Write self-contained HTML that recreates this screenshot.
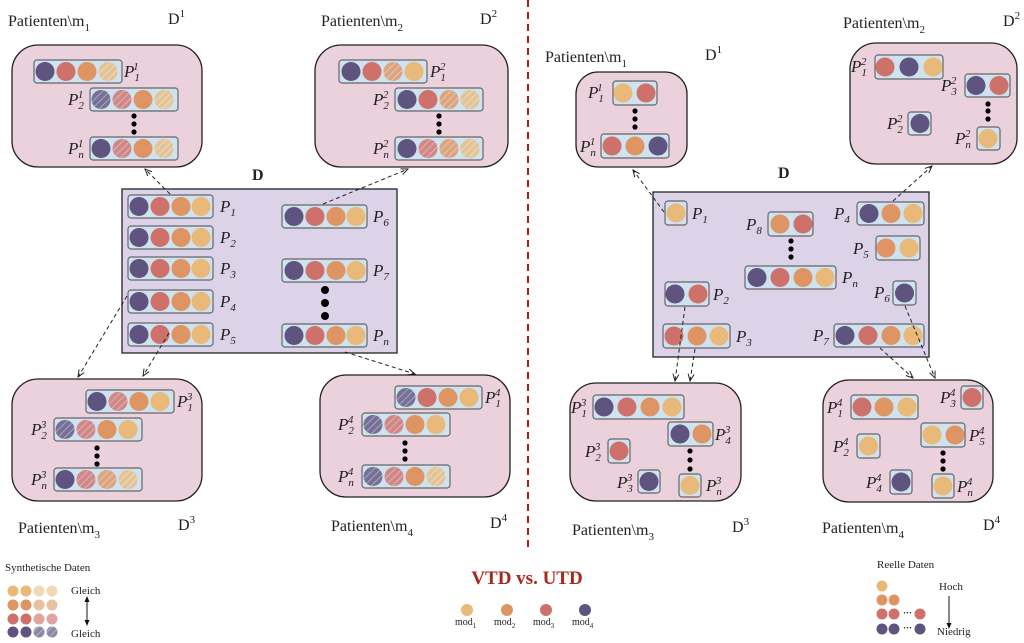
<!DOCTYPE html>
<html><head><meta charset="utf-8"><style>
html,body{margin:0;padding:0;background:#fff;}
svg{display:block;}
text{font-family:"Liberation Serif",serif;fill:#222;}
.t{font-size:16px;}
.p{font-size:17px;font-style:italic;}
.s{font-size:11px;}
</style></head><body>
<svg width="1024" height="643" viewBox="0 0 1024 643" xmlns="http://www.w3.org/2000/svg">
<defs>
<pattern id="h" width="5" height="5" patternUnits="userSpaceOnUse" patternTransform="rotate(45)">
<rect width="5" height="5" fill="none"/><line x1="0" y1="0" x2="0" y2="5" stroke="#fff" stroke-width="1.3" stroke-opacity="0.55"/></pattern>
<circle id="y" r="9.5" fill="#e8b978"/>
<circle id="o" r="9.5" fill="#de9563"/>
<circle id="r" r="9.5" fill="#cf716b"/>
<circle id="u" r="9.5" fill="#5f5480"/>
<g id="yh"><circle r="9.5" fill="#e8b978" opacity="0.75"/><circle r="9.5" fill="url(#h)"/></g>
<g id="oh"><circle r="9.5" fill="#de9563" opacity="0.8"/><circle r="9.5" fill="url(#h)"/></g>
<g id="rh"><circle r="9.5" fill="#cf716b" opacity="0.8"/><circle r="9.5" fill="url(#h)"/></g>
<g id="uh"><circle r="9.5" fill="#5f5480" opacity="0.8"/><circle r="9.5" fill="url(#h)"/></g>
<marker id="a" markerWidth="8" markerHeight="8" refX="7" refY="4" orient="auto"><path d="M0,1 L7,4 L0,7" fill="none" stroke="#222" stroke-width="1"/></marker>
</defs>

<line x1="528" y1="0" x2="528" y2="552" stroke="#cc1111" stroke-width="2" stroke-dasharray="7,5"/>

<!-- ===== LEFT ===== -->
<text class="t" x="8" y="26">Patienten\m<tspan class="s" dy="5">1</tspan></text>
<text class="t" x="168" y="24">D<tspan class="s" dy="-7">1</tspan></text>
<text class="t" x="321" y="26">Patienten\m<tspan class="s" dy="5">2</tspan></text>
<text class="t" x="480" y="24">D<tspan class="s" dy="-7">2</tspan></text>

<rect x="12" y="45" width="190" height="122" rx="26" fill="#ebd1dc" stroke="#222" stroke-width="1.3"/>
<rect x="315" y="45" width="193" height="122" rx="26" fill="#ebd1dc" stroke="#222" stroke-width="1.3"/>
<rect x="12" y="379" width="190" height="122" rx="26" fill="#ebd1dc" stroke="#222" stroke-width="1.3"/>
<rect x="320" y="375" width="190" height="122" rx="26" fill="#ebd1dc" stroke="#222" stroke-width="1.3"/>
<rect x="122" y="189" width="275" height="164" fill="#dcd3e8" stroke="#222" stroke-width="1.3"/>

<g fill="#cfe2f0" stroke="#666" stroke-width="1.2">
<rect x="34" y="60" width="88" height="23" rx="3"/>
<rect x="90" y="88" width="88" height="23" rx="3"/>
<rect x="90" y="137" width="88" height="23" rx="3"/>
<rect x="339" y="60" width="88" height="23" rx="3"/>
<rect x="395" y="88" width="88" height="23" rx="3"/>
<rect x="395" y="137" width="88" height="23" rx="3"/>
<rect x="128" y="195" width="85" height="23" rx="3"/>
<rect x="128" y="226" width="85" height="23" rx="3"/>
<rect x="128" y="257" width="85" height="23" rx="3"/>
<rect x="128" y="290" width="85" height="23" rx="3"/>
<rect x="128" y="323" width="85" height="23" rx="3"/>
<rect x="282" y="205" width="85" height="23" rx="3"/>
<rect x="282" y="259" width="85" height="23" rx="3"/>
<rect x="282" y="324" width="85" height="23" rx="3"/>
<rect x="86" y="390" width="88" height="23" rx="3"/>
<rect x="54" y="418" width="88" height="23" rx="3"/>
<rect x="54" y="468" width="88" height="23" rx="3"/>
<rect x="395" y="386" width="87" height="23" rx="3"/>
<rect x="362" y="413" width="88" height="23" rx="3"/>
<rect x="362" y="465" width="88" height="23" rx="3"/>
</g>

<use href="#u" x="45" y="71.5"/><use href="#r" x="66" y="71.5"/><use href="#o" x="87" y="71.5"/><use href="#yh" x="108" y="71.5"/>
<use href="#uh" x="101" y="99.5"/><use href="#rh" x="122" y="99.5"/><use href="#o" x="143" y="99.5"/><use href="#yh" x="164" y="99.5"/>
<use href="#u" x="101" y="148.5"/><use href="#rh" x="122" y="148.5"/><use href="#o" x="143" y="148.5"/><use href="#yh" x="164" y="148.5"/>
<g fill="#000"><circle cx="134" cy="116" r="2.6"/><circle cx="134" cy="124" r="2.6"/><circle cx="134" cy="132" r="2.6"/></g>
<text class="p" x="124" y="77">P<tspan class="s" dx="0" dy="4">1</tspan><tspan class="s" dx="-6" dy="-11">1</tspan></text>
<text class="p" x="68" y="105">P<tspan class="s" dy="4">2</tspan><tspan class="s" dx="-6" dy="-11">1</tspan></text>
<text class="p" x="68" y="154">P<tspan class="s" dy="4">n</tspan><tspan class="s" dx="-6" dy="-11">1</tspan></text>

<use href="#u" x="351" y="71.5"/><use href="#r" x="372" y="71.5"/><use href="#oh" x="393" y="71.5"/><use href="#y" x="414" y="71.5"/>
<use href="#u" x="407" y="99.5"/><use href="#r" x="428" y="99.5"/><use href="#oh" x="449" y="99.5"/><use href="#yh" x="470" y="99.5"/>
<use href="#u" x="407" y="148.5"/><use href="#rh" x="428" y="148.5"/><use href="#oh" x="449" y="148.5"/><use href="#yh" x="470" y="148.5"/>
<g fill="#000"><circle cx="439" cy="116" r="2.6"/><circle cx="439" cy="124" r="2.6"/><circle cx="439" cy="132" r="2.6"/></g>
<text class="p" x="430" y="77">P<tspan class="s" dy="4">1</tspan><tspan class="s" dx="-6" dy="-11">2</tspan></text>
<text class="p" x="373" y="105">P<tspan class="s" dy="4">2</tspan><tspan class="s" dx="-6" dy="-11">2</tspan></text>
<text class="p" x="373" y="154">P<tspan class="s" dy="4">n</tspan><tspan class="s" dx="-6" dy="-11">2</tspan></text>

<text x="252" y="180" style="font-size:16px;font-weight:bold">D</text>
<g>
<use href="#u" x="139" y="206.5"/><use href="#r" x="160" y="206.5"/><use href="#o" x="181" y="206.5"/><use href="#y" x="201" y="206.5"/>
<use href="#u" x="139" y="237.5"/><use href="#r" x="160" y="237.5"/><use href="#o" x="181" y="237.5"/><use href="#y" x="201" y="237.5"/>
<use href="#u" x="139" y="268.5"/><use href="#r" x="160" y="268.5"/><use href="#o" x="181" y="268.5"/><use href="#y" x="201" y="268.5"/>
<use href="#u" x="139" y="301.5"/><use href="#r" x="160" y="301.5"/><use href="#o" x="181" y="301.5"/><use href="#y" x="201" y="301.5"/>
<use href="#u" x="139" y="334.5"/><use href="#r" x="160" y="334.5"/><use href="#o" x="181" y="334.5"/><use href="#y" x="201" y="334.5"/>
<use href="#u" x="294" y="216.5"/><use href="#r" x="315" y="216.5"/><use href="#o" x="336" y="216.5"/><use href="#y" x="356" y="216.5"/>
<use href="#u" x="294" y="270.5"/><use href="#r" x="315" y="270.5"/><use href="#o" x="336" y="270.5"/><use href="#y" x="356" y="270.5"/>
<use href="#u" x="294" y="335.5"/><use href="#r" x="315" y="335.5"/><use href="#o" x="336" y="335.5"/><use href="#y" x="356" y="335.5"/>
</g>
<g fill="#000"><circle cx="325" cy="290" r="4"/><circle cx="325" cy="303" r="4"/><circle cx="325" cy="316" r="4"/></g>
<text class="p" x="220" y="212">P<tspan class="s" dy="4">1</tspan></text>
<text class="p" x="220" y="243">P<tspan class="s" dy="4">2</tspan></text>
<text class="p" x="220" y="274">P<tspan class="s" dy="4">3</tspan></text>
<text class="p" x="220" y="307">P<tspan class="s" dy="4">4</tspan></text>
<text class="p" x="220" y="340">P<tspan class="s" dy="4">5</tspan></text>
<text class="p" x="373" y="222">P<tspan class="s" dy="4">6</tspan></text>
<text class="p" x="373" y="276">P<tspan class="s" dy="4">7</tspan></text>
<text class="p" x="373" y="341">P<tspan class="s" dy="4">n</tspan></text>

<use href="#u" x="97" y="401.5"/><use href="#rh" x="118" y="401.5"/><use href="#o" x="139" y="401.5"/><use href="#y" x="160" y="401.5"/>
<use href="#uh" x="65" y="429.5"/><use href="#rh" x="86" y="429.5"/><use href="#o" x="107" y="429.5"/><use href="#y" x="128" y="429.5"/>
<use href="#u" x="65" y="479.5"/><use href="#rh" x="86" y="479.5"/><use href="#oh" x="107" y="479.5"/><use href="#yh" x="128" y="479.5"/>
<g fill="#000"><circle cx="97" cy="448" r="2.6"/><circle cx="97" cy="456" r="2.6"/><circle cx="97" cy="464" r="2.6"/></g>
<text class="p" x="177" y="407">P<tspan class="s" dy="4">1</tspan><tspan class="s" dx="-6" dy="-11">3</tspan></text>
<text class="p" x="31" y="435">P<tspan class="s" dy="4">2</tspan><tspan class="s" dx="-6" dy="-11">3</tspan></text>
<text class="p" x="31" y="485">P<tspan class="s" dy="4">n</tspan><tspan class="s" dx="-6" dy="-11">3</tspan></text>
<text class="t" x="18" y="533">Patienten\m<tspan class="s" dy="5">3</tspan></text>
<text class="t" x="178" y="530">D<tspan class="s" dy="-7">3</tspan></text>

<use href="#uh" x="406" y="397.5"/><use href="#r" x="427" y="397.5"/><use href="#o" x="448" y="397.5"/><use href="#y" x="469" y="397.5"/>
<use href="#uh" x="373" y="424.5"/><use href="#rh" x="394" y="424.5"/><use href="#o" x="415" y="424.5"/><use href="#y" x="436" y="424.5"/>
<use href="#uh" x="373" y="476.5"/><use href="#rh" x="394" y="476.5"/><use href="#o" x="415" y="476.5"/><use href="#yh" x="436" y="476.5"/>
<g fill="#000"><circle cx="405" cy="443" r="2.6"/><circle cx="405" cy="451" r="2.6"/><circle cx="405" cy="459" r="2.6"/></g>
<text class="p" x="485" y="403">P<tspan class="s" dy="4">1</tspan><tspan class="s" dx="-6" dy="-11">4</tspan></text>
<text class="p" x="338" y="430">P<tspan class="s" dy="4">2</tspan><tspan class="s" dx="-6" dy="-11">4</tspan></text>
<text class="p" x="338" y="482">P<tspan class="s" dy="4">n</tspan><tspan class="s" dx="-6" dy="-11">4</tspan></text>
<text class="t" x="331" y="531">Patienten\m<tspan class="s" dy="5">4</tspan></text>
<text class="t" x="490" y="528">D<tspan class="s" dy="-7">4</tspan></text>

<g stroke="#222" stroke-width="1" stroke-dasharray="4,3" fill="none" marker-end="url(#a)">
<line x1="170" y1="194" x2="145" y2="169"/>
<line x1="323" y1="204" x2="408" y2="169"/>
<line x1="127" y1="296" x2="78" y2="377"/>
<line x1="169" y1="333" x2="143" y2="376"/>
<line x1="345" y1="352" x2="415" y2="374"/>
</g>

<!-- ===== RIGHT ===== -->
<text class="t" x="545" y="62">Patienten\m<tspan class="s" dy="5">1</tspan></text>
<text class="t" x="705" y="60">D<tspan class="s" dy="-7">1</tspan></text>
<text class="t" x="843" y="28">Patienten\m<tspan class="s" dy="5">2</tspan></text>
<text class="t" x="1003" y="26">D<tspan class="s" dy="-7">2</tspan></text>

<rect x="576" y="72" width="111" height="95" rx="22" fill="#ebd1dc" stroke="#222" stroke-width="1.3"/>
<rect x="850" y="43" width="167" height="121" rx="26" fill="#ebd1dc" stroke="#222" stroke-width="1.3"/>
<rect x="570" y="383" width="171" height="118" rx="26" fill="#ebd1dc" stroke="#222" stroke-width="1.3"/>
<rect x="823" y="380" width="170" height="122" rx="26" fill="#ebd1dc" stroke="#222" stroke-width="1.3"/>
<rect x="653" y="192" width="276" height="165" fill="#dcd3e8" stroke="#222" stroke-width="1.3"/>

<g fill="#cfe2f0" stroke="#666" stroke-width="1.2">
<rect x="613" y="81" width="44" height="24" rx="3"/>
<rect x="601" y="134" width="68" height="24" rx="3"/>
<rect x="875" y="55" width="68" height="24" rx="3"/>
<rect x="965" y="74" width="45" height="23" rx="3"/>
<rect x="908" y="112" width="23" height="23" rx="3"/>
<rect x="977" y="127" width="23" height="23" rx="3"/>
<rect x="665" y="201" width="22" height="24" rx="3"/>
<rect x="768" y="212" width="45" height="24" rx="3"/>
<rect x="745" y="266" width="91" height="23" rx="3"/>
<rect x="857" y="202" width="67" height="23" rx="3"/>
<rect x="876" y="236" width="44" height="24" rx="3"/>
<rect x="893" y="281" width="23" height="24" rx="3"/>
<rect x="834" y="324" width="90" height="23" rx="3"/>
<rect x="665" y="282" width="44" height="24" rx="3"/>
<rect x="663" y="324" width="67" height="24" rx="3"/>
<rect x="593" y="395" width="91" height="24" rx="3"/>
<rect x="668" y="422" width="45" height="24" rx="3"/>
<rect x="608" y="439" width="22" height="24" rx="3"/>
<rect x="638" y="470" width="22" height="23" rx="3"/>
<rect x="679" y="474" width="22" height="23" rx="3"/>
<rect x="851" y="395" width="67" height="24" rx="3"/>
<rect x="961" y="386" width="22" height="23" rx="3"/>
<rect x="921" y="423" width="44" height="24" rx="3"/>
<rect x="857" y="434" width="23" height="24" rx="3"/>
<rect x="890" y="470" width="22" height="24" rx="3"/>
<rect x="932" y="474" width="22" height="24" rx="3"/>
</g>

<use href="#y" x="623" y="93"/><use href="#r" x="646" y="93"/>
<use href="#r" x="612" y="146"/><use href="#o" x="635" y="146"/><use href="#u" x="658" y="146"/>
<g fill="#000"><circle cx="635" cy="111" r="2.6"/><circle cx="635" cy="119" r="2.6"/><circle cx="635" cy="127" r="2.6"/></g>
<text class="p" x="588" y="98">P<tspan class="s" dy="4">1</tspan><tspan class="s" dx="-6" dy="-11">1</tspan></text>
<text class="p" x="580" y="152">P<tspan class="s" dy="4">n</tspan><tspan class="s" dx="-6" dy="-11">1</tspan></text>

<use href="#r" x="885" y="67"/><use href="#u" x="909" y="67"/><use href="#y" x="933" y="67"/>
<use href="#u" x="976" y="85.5"/><use href="#r" x="999" y="85.5"/>
<use href="#u" x="920" y="123.5"/>
<use href="#y" x="988" y="138.5"/>
<g fill="#000"><circle cx="988" cy="104" r="2.6"/><circle cx="988" cy="111" r="2.6"/><circle cx="988" cy="119" r="2.6"/></g>
<text class="p" x="851" y="72">P<tspan class="s" dy="4">1</tspan><tspan class="s" dx="-6" dy="-11">2</tspan></text>
<text class="p" x="941" y="91">P<tspan class="s" dy="4">3</tspan><tspan class="s" dx="-6" dy="-11">2</tspan></text>
<text class="p" x="887" y="129">P<tspan class="s" dy="4">2</tspan><tspan class="s" dx="-6" dy="-11">2</tspan></text>
<text class="p" x="955" y="144">P<tspan class="s" dy="4">n</tspan><tspan class="s" dx="-6" dy="-11">2</tspan></text>

<text x="778" y="178" style="font-size:16px;font-weight:bold">D</text>
<use href="#y" x="676" y="213"/>
<use href="#o" x="780" y="224"/><use href="#r" x="803" y="224"/>
<use href="#u" x="757" y="277.5"/><use href="#r" x="780" y="277.5"/><use href="#o" x="803" y="277.5"/><use href="#y" x="825" y="277.5"/>
<use href="#u" x="869" y="213.5"/><use href="#o" x="891" y="213.5"/><use href="#y" x="913" y="213.5"/>
<use href="#o" x="886" y="248"/><use href="#y" x="909" y="248"/>
<use href="#u" x="904.5" y="293"/>
<use href="#u" x="845" y="335.5"/><use href="#r" x="868" y="335.5"/><use href="#o" x="891" y="335.5"/><use href="#y" x="913" y="335.5"/>
<use href="#u" x="675" y="294"/><use href="#r" x="698" y="294"/>
<use href="#r" x="674" y="336"/><use href="#o" x="697" y="336"/><use href="#y" x="719" y="336"/>
<g fill="#000"><circle cx="791" cy="241" r="2.6"/><circle cx="791" cy="249" r="2.6"/><circle cx="791" cy="257" r="2.6"/></g>
<text class="p" x="692" y="219">P<tspan class="s" dy="4">1</tspan></text>
<text class="p" x="746" y="230">P<tspan class="s" dy="4">8</tspan></text>
<text class="p" x="842" y="283">P<tspan class="s" dy="4">n</tspan></text>
<text class="p" x="834" y="219">P<tspan class="s" dy="4">4</tspan></text>
<text class="p" x="853" y="254">P<tspan class="s" dy="4">5</tspan></text>
<text class="p" x="874" y="298">P<tspan class="s" dy="4">6</tspan></text>
<text class="p" x="813" y="341">P<tspan class="s" dy="4">7</tspan></text>
<text class="p" x="713" y="300">P<tspan class="s" dy="4">2</tspan></text>
<text class="p" x="736" y="342">P<tspan class="s" dy="4">3</tspan></text>

<use href="#u" x="604" y="407"/><use href="#r" x="627" y="407"/><use href="#o" x="650" y="407"/><use href="#y" x="672" y="407"/>
<use href="#u" x="680" y="434"/><use href="#o" x="702" y="434"/>
<use href="#r" x="619" y="451"/>
<use href="#u" x="649" y="481.5"/>
<use href="#y" x="690" y="485.5"/>
<g fill="#000"><circle cx="690" cy="451" r="2.6"/><circle cx="690" cy="460" r="2.6"/><circle cx="690" cy="469" r="2.6"/></g>
<text class="p" x="571" y="413">P<tspan class="s" dy="4">1</tspan><tspan class="s" dx="-6" dy="-11">3</tspan></text>
<text class="p" x="715" y="440">P<tspan class="s" dy="4">4</tspan><tspan class="s" dx="-6" dy="-11">3</tspan></text>
<text class="p" x="585" y="457">P<tspan class="s" dy="4">2</tspan><tspan class="s" dx="-6" dy="-11">3</tspan></text>
<text class="p" x="617" y="488">P<tspan class="s" dy="4">3</tspan><tspan class="s" dx="-6" dy="-11">3</tspan></text>
<text class="p" x="706" y="491">P<tspan class="s" dy="4">n</tspan><tspan class="s" dx="-6" dy="-11">3</tspan></text>
<text class="t" x="572" y="535">Patienten\m<tspan class="s" dy="5">3</tspan></text>
<text class="t" x="732" y="532">D<tspan class="s" dy="-7">3</tspan></text>

<use href="#r" x="862" y="407"/><use href="#o" x="884" y="407"/><use href="#y" x="907" y="407"/>
<use href="#r" x="972" y="397.5"/>
<use href="#y" x="932" y="435"/><use href="#o" x="955" y="435"/>
<use href="#y" x="868.5" y="446"/>
<use href="#u" x="901" y="482"/>
<use href="#y" x="943" y="486"/>
<g fill="#000"><circle cx="943" cy="453" r="2.6"/><circle cx="943" cy="461" r="2.6"/><circle cx="943" cy="469" r="2.6"/></g>
<text class="p" x="827" y="413">P<tspan class="s" dy="4">1</tspan><tspan class="s" dx="-6" dy="-11">4</tspan></text>
<text class="p" x="940" y="403">P<tspan class="s" dy="4">3</tspan><tspan class="s" dx="-6" dy="-11">4</tspan></text>
<text class="p" x="969" y="441">P<tspan class="s" dy="4">5</tspan><tspan class="s" dx="-6" dy="-11">4</tspan></text>
<text class="p" x="833" y="452">P<tspan class="s" dy="4">2</tspan><tspan class="s" dx="-6" dy="-11">4</tspan></text>
<text class="p" x="866" y="488">P<tspan class="s" dy="4">4</tspan><tspan class="s" dx="-6" dy="-11">4</tspan></text>
<text class="p" x="957" y="492">P<tspan class="s" dy="4">n</tspan><tspan class="s" dx="-6" dy="-11">4</tspan></text>
<text class="t" x="822" y="533">Patienten\m<tspan class="s" dy="5">4</tspan></text>
<text class="t" x="983" y="530">D<tspan class="s" dy="-7">4</tspan></text>

<g stroke="#222" stroke-width="1" stroke-dasharray="4,3" fill="none" marker-end="url(#a)">
<line x1="664" y1="212" x2="633" y2="170"/>
<line x1="893" y1="201" x2="932" y2="166"/>
<line x1="685" y1="307" x2="675" y2="381"/>
<line x1="695" y1="349" x2="690" y2="381"/>
<line x1="880" y1="348" x2="913" y2="378"/>
<line x1="905" y1="306" x2="935" y2="378"/>
</g>

<!-- ===== LEGEND ===== -->
<text x="5" y="571" style="font-size:11px">Synthetische Daten</text>
<g>
<circle cx="13" cy="591" r="5.5" fill="#e8b978"/><circle cx="26" cy="591" r="5.5" fill="#e8b978"/><circle cx="39" cy="591" r="5.5" fill="#e8b978" opacity=".55"/><circle cx="52" cy="591" r="5.5" fill="#e8b978" opacity=".55"/>
<circle cx="13" cy="605" r="5.5" fill="#de9563"/><circle cx="26" cy="605" r="5.5" fill="#de9563"/><circle cx="39" cy="605" r="5.5" fill="#de9563" opacity=".6"/><circle cx="52" cy="605" r="5.5" fill="#de9563" opacity=".6"/>
<circle cx="13" cy="619" r="5.5" fill="#cf716b"/><circle cx="26" cy="619" r="5.5" fill="#cf716b"/><circle cx="39" cy="619" r="5.5" fill="#cf716b" opacity=".65"/><circle cx="52" cy="619" r="5.5" fill="#cf716b" opacity=".65"/>
<circle cx="13" cy="632" r="5.5" fill="#5f5480"/><circle cx="26" cy="632" r="5.5" fill="#5f5480"/><circle cx="39" cy="632" r="5.5" fill="#5f5480" opacity=".7"/><circle cx="52" cy="632" r="5.5" fill="#5f5480" opacity=".7"/>
<circle cx="39" cy="632" r="5.5" fill="url(#h)"/><circle cx="52" cy="632" r="5.5" fill="url(#h)"/>
</g>
<text x="71" y="594" style="font-size:11px">Gleich</text>
<text x="71" y="637" style="font-size:11px">Gleich</text>
<line x1="87" y1="598" x2="87" y2="624" stroke="#111" stroke-width="1"/>
<path d="M84.5,602 L87,596 L89.5,602 Z M84.5,620 L87,626 L89.5,620 Z" fill="#111"/>

<text x="527" y="584" text-anchor="middle" style="font-size:19px;font-weight:bold;fill:#a8281c">VTD vs. UTD</text>
<circle cx="467" cy="610" r="6" fill="#e8b978"/><circle cx="507" cy="610" r="6" fill="#de9563"/><circle cx="546" cy="610" r="6" fill="#cf716b"/><circle cx="585" cy="610" r="6" fill="#5f5480"/>
<text x="455" y="625" style="font-size:10px">mod<tspan font-size="7" dy="3">1</tspan></text>
<text x="494" y="625" style="font-size:10px">mod<tspan font-size="7" dy="3">2</tspan></text>
<text x="533" y="625" style="font-size:10px">mod<tspan font-size="7" dy="3">3</tspan></text>
<text x="572" y="625" style="font-size:10px">mod<tspan font-size="7" dy="3">4</tspan></text>

<text x="877" y="568" style="font-size:11px">Reelle Daten</text>
<circle cx="882" cy="586" r="5.5" fill="#e8b978"/>
<circle cx="882" cy="600" r="5.5" fill="#de9563"/><circle cx="894" cy="600" r="5.5" fill="#de9563"/>
<circle cx="882" cy="614" r="5.5" fill="#cf716b"/><circle cx="894" cy="614" r="5.5" fill="#cf716b"/><circle cx="920" cy="614" r="5.5" fill="#cf716b"/>
<circle cx="882" cy="629" r="5.5" fill="#5f5480"/><circle cx="894" cy="629" r="5.5" fill="#5f5480"/><circle cx="920" cy="629" r="5.5" fill="#5f5480"/>
<text x="903" y="616" style="font-size:9px;font-weight:bold">···</text>
<text x="903" y="631" style="font-size:9px;font-weight:bold">···</text>
<text x="939" y="590" style="font-size:11px">Hoch</text>
<text x="937" y="635" style="font-size:11px">Niedrig</text>
<line x1="949" y1="596" x2="949" y2="625" stroke="#111" stroke-width="1"/>
<path d="M946.5,623 L949,629 L951.5,623 Z" fill="#111"/>
</svg>
</body></html>
